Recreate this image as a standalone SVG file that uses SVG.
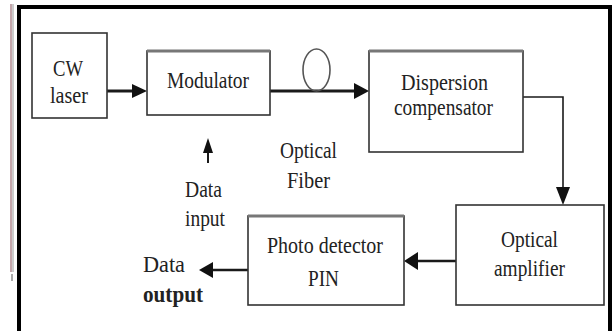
<svg xmlns="http://www.w3.org/2000/svg" width="612" height="331" viewBox="0 0 612 331" font-family="Liberation Serif, 'Times New Roman', serif">
<style>
.box{fill:#fff;stroke:#333;stroke-width:1.6}
.top{stroke:#777;stroke-width:3}
text{font-size:24px;fill:#222}
.b{font-weight:bold}
.ln{fill:none;stroke:#1a1a1a}
.ah{fill:#111}
</style>
<rect width="612" height="331" fill="#fff"/>
<line x1="11" y1="4" x2="11" y2="272" stroke="#b08a90" stroke-width="1.5"/>
<line x1="13" y1="4" x2="13" y2="272" stroke="#999" stroke-width="1"/>
<line x1="12" y1="274" x2="12" y2="281" stroke="#aaa" stroke-width="2"/>
<rect x="19" y="7" width="591" height="340" fill="none" stroke="#000" stroke-width="4"/>

<g id="connectors">
  <line class="ln" x1="107" y1="91" x2="134" y2="91" stroke-width="3"/>
  <polygon class="ah" points="147,91 132,84 132,98"/>
  <line class="ln" x1="270" y1="91" x2="357" y2="91" stroke-width="3"/>
  <polygon class="ah" points="369,91 354,83 354,99"/>
  <ellipse cx="316.5" cy="70" rx="13.5" ry="21" fill="none" stroke="#555" stroke-width="1.6"/>
  <polyline class="ln" points="523,97 563,97 563,192" stroke="#444" stroke-width="1.6"/>
  <polygon class="ah" points="563,205 556,187 570,187"/>
  <line class="ln" x1="456" y1="261" x2="416" y2="261" stroke="#444" stroke-width="2.5"/>
  <polygon class="ah" points="404,261 418,252 418,270"/>
  <line class="ln" x1="248" y1="270" x2="211" y2="270" stroke="#444" stroke-width="2.5"/>
  <polygon class="ah" points="199,270 213,262 213,278"/>
  <line class="ln" x1="208" y1="163" x2="208" y2="150" stroke-width="2"/>
  <polygon class="ah" points="208,138 203,153 213,153"/>
</g>

<g id="cw-laser">
  <rect class="box" x="32" y="33" width="75" height="85"/>
  <text x="53" y="76" textLength="30" lengthAdjust="spacingAndGlyphs">CW</text>
  <text x="50" y="103" textLength="38" lengthAdjust="spacingAndGlyphs">laser</text>
</g>

<g id="modulator">
  <rect class="box" x="147" y="51" width="123" height="64"/>
  <line class="top" x1="147" y1="51" x2="270" y2="51"/>
  <text x="167" y="88" textLength="82" lengthAdjust="spacingAndGlyphs">Modulator</text>
</g>

<g id="dispersion-compensator">
  <rect class="box" x="369" y="51" width="154" height="101"/>
  <line class="top" x1="369" y1="51" x2="523" y2="51"/>
  <text x="401" y="90" textLength="87" lengthAdjust="spacingAndGlyphs">Dispersion</text>
  <text x="394" y="115" textLength="99" lengthAdjust="spacingAndGlyphs">compensator</text>
</g>

<g id="optical-amplifier">
  <rect class="box" x="456" y="205" width="148" height="100"/>
  <text x="501" y="247" textLength="57" lengthAdjust="spacingAndGlyphs">Optical</text>
  <text x="494" y="276" textLength="71" lengthAdjust="spacingAndGlyphs">amplifier</text>
</g>

<g id="photo-detector">
  <rect class="box" x="248" y="216" width="156" height="89"/>
  <line class="top" x1="248" y1="216" x2="404" y2="216"/>
  <text x="267" y="253" textLength="116" lengthAdjust="spacingAndGlyphs">Photo detector</text>
  <text x="308" y="286" textLength="31" lengthAdjust="spacingAndGlyphs">PIN</text>
</g>

<g id="labels">
  <text x="280" y="158" textLength="57" lengthAdjust="spacingAndGlyphs">Optical</text>
  <text x="287" y="188" textLength="43" lengthAdjust="spacingAndGlyphs">Fiber</text>
  <text x="185" y="197" textLength="37" lengthAdjust="spacingAndGlyphs">Data</text>
  <text x="185" y="226" textLength="40" lengthAdjust="spacingAndGlyphs">input</text>
  <text x="143" y="272" textLength="42" lengthAdjust="spacingAndGlyphs">Data</text>
  <text class="b" x="143" y="302" textLength="60" lengthAdjust="spacingAndGlyphs">output</text>
</g>
</svg>
